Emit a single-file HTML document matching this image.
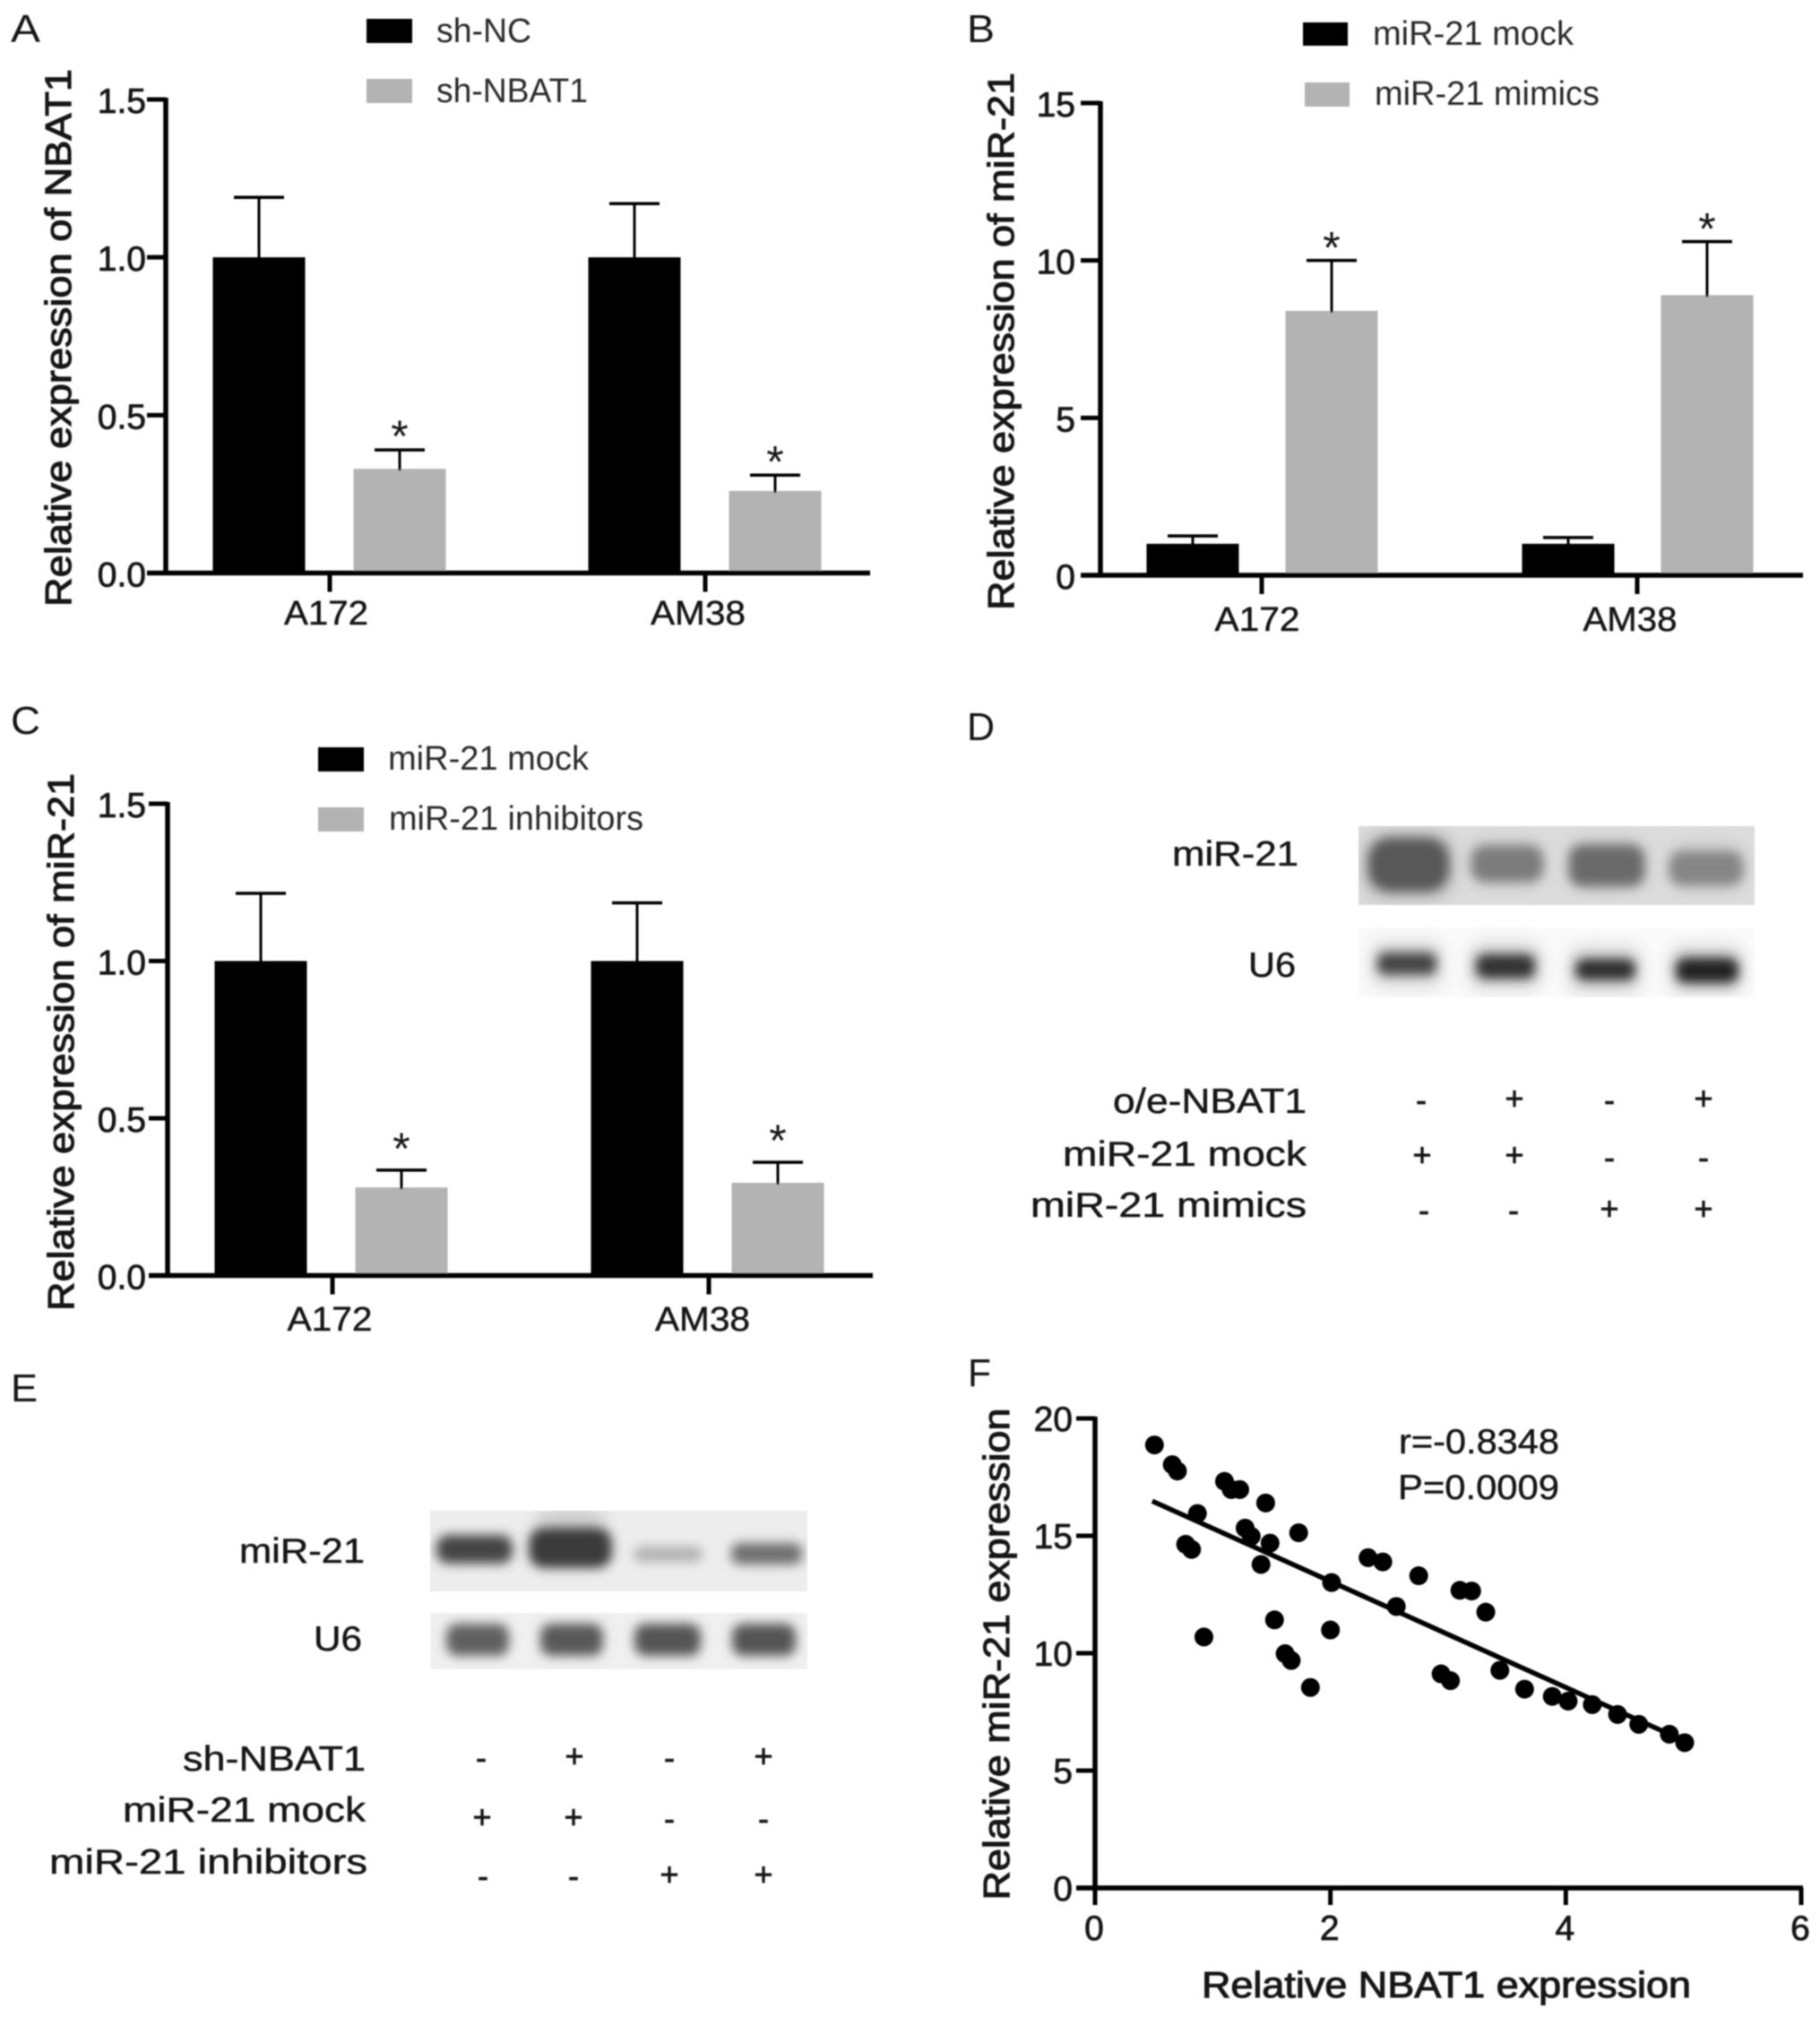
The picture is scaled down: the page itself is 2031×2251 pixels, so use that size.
<!DOCTYPE html>
<html lang="en">
<head>
<meta charset="utf-8">
<title>NBAT1 and miR-21 expression figure</title>
<style>
html,body{margin:0;padding:0;background:#fff;width:2031px;height:2251px;overflow:hidden}
svg{display:block}
text{font-family:"Liberation Sans",Arial,sans-serif;fill:#161616}
.heavy{stroke:#161616;stroke-width:1.1px}
.letter{font-size:44px}
.lbl{font-size:39px;stroke:#161616;stroke-width:.5px}
.sign{font-size:36px;text-anchor:middle;stroke:#161616;stroke-width:.8px}
.leg{font-size:38px;fill:#2a2a2a}
</style>
</head>
<body>
<svg id="figure" xmlns="http://www.w3.org/2000/svg" width="2031" height="2251" viewBox="0 0 2031 2251">
<defs>
<filter id="soft" x="-5%" y="-5%" width="110%" height="110%"><feGaussianBlur stdDeviation="0.7"/></filter>
<filter id="band" x="-30%" y="-60%" width="160%" height="220%"><feGaussianBlur stdDeviation="6"/></filter>
<filter id="halo" x="-30%" y="-60%" width="160%" height="220%"><feGaussianBlur stdDeviation="9"/></filter>
<clipPath id="clip-d1"><rect x="1516" y="922" width="442" height="88"/></clipPath>
<clipPath id="clip-d2"><rect x="1516" y="1035" width="442" height="78"/></clipPath>
<clipPath id="clip-e1"><rect x="480" y="1686" width="421" height="90"/></clipPath>
<clipPath id="clip-e2"><rect x="480" y="1800" width="421" height="63"/></clipPath>
</defs>
<rect width="2031" height="2251" fill="#fff"/>
<g id="root" filter="url(#soft)">

<text class="letter" x="12" y="47" textLength="33" lengthAdjust="spacingAndGlyphs">A</text>
<text class="letter" x="1079" y="47" textLength="31" lengthAdjust="spacingAndGlyphs">B</text>
<text class="letter" x="12" y="819" textLength="33" lengthAdjust="spacingAndGlyphs">C</text>
<text class="letter" x="1079" y="826" textLength="31" lengthAdjust="spacingAndGlyphs">D</text>
<text class="letter" x="12" y="1564" textLength="30" lengthAdjust="spacingAndGlyphs">E</text>
<text class="letter" x="1080" y="1547" textLength="26" lengthAdjust="spacingAndGlyphs">F</text>

<g>
<rect x="409" y="21" width="51" height="27" fill="#000"/>
<text class="leg" x="487" y="47" textLength="106" lengthAdjust="spacingAndGlyphs">sh-NC</text>
<rect x="409" y="88" width="51" height="27" fill="#b3b3b3"/>
<text class="leg" x="487" y="114" textLength="169" lengthAdjust="spacingAndGlyphs">sh-NBAT1</text>
</g>
<g>
<rect x="1454" y="25" width="50" height="26" fill="#000"/>
<text class="leg" x="1532" y="50" textLength="224" lengthAdjust="spacingAndGlyphs">miR-21 mock</text>
<rect x="1456" y="92" width="50" height="27" fill="#b3b3b3"/>
<text class="leg" x="1534" y="117" textLength="251" lengthAdjust="spacingAndGlyphs">miR-21 mimics</text>
</g>
<g>
<rect x="355" y="834" width="51" height="27" fill="#000"/>
<text class="leg" x="433" y="859" textLength="224" lengthAdjust="spacingAndGlyphs">miR-21 mock</text>
<rect x="355" y="901" width="51" height="27" fill="#b3b3b3"/>
<text class="leg" x="434" y="926" textLength="284" lengthAdjust="spacingAndGlyphs">miR-21 inhibitors</text>
</g>

<g id="chart-a"></g>
<g id="chart-b"></g>
<g id="chart-c"></g>
<g id="chart-f"></g>

<g>
<g clip-path="url(#clip-d1)">
<rect x="1516" y="922" width="442" height="88" fill="#dcdcdc"/>
<rect x="1522" y="928" width="100" height="76" rx="24" fill="#bdbdbd" filter="url(#halo)"/>
<rect x="1642" y="938" width="80" height="50" rx="18" fill="#c6c6c6" filter="url(#halo)"/>
<rect x="1751" y="938" width="84" height="54" rx="18" fill="#c2c2c2" filter="url(#halo)"/>
<rect x="1863" y="942" width="82" height="50" rx="18" fill="#c8c8c8" filter="url(#halo)"/>
<rect x="1527" y="935" width="90" height="60" rx="24" fill="#595959" filter="url(#band)"/>
<rect x="1642" y="944" width="80" height="40" rx="15" fill="#7c7c7c" filter="url(#band)"/>
<rect x="1751" y="943" width="84" height="46" rx="15" fill="#6a6a6a" filter="url(#band)"/>
<rect x="1863" y="950" width="82" height="38" rx="14" fill="#858585" filter="url(#band)"/>
</g>
<g clip-path="url(#clip-d2)">
<rect x="1516" y="1035" width="442" height="78" fill="#fafafa"/>
<rect x="1530" y="1050" width="80" height="52" rx="14" fill="#dadada" filter="url(#halo)"/>
<rect x="1640" y="1052" width="80" height="52" rx="14" fill="#d6d6d6" filter="url(#halo)"/>
<rect x="1751" y="1056" width="80" height="52" rx="14" fill="#d6d6d6" filter="url(#halo)"/>
<rect x="1864" y="1056" width="80" height="52" rx="14" fill="#d2d2d2" filter="url(#halo)"/>
<rect x="1537" y="1063" width="66" height="25" rx="9" fill="#454545" filter="url(#band)"/>
<rect x="1647" y="1065" width="66" height="27" rx="10" fill="#333" filter="url(#band)"/>
<rect x="1758" y="1070" width="67" height="24" rx="10" fill="#2e2e2e" filter="url(#band)"/>
<rect x="1870" y="1069" width="70" height="28" rx="11" fill="#222" filter="url(#band)"/>
</g>
</g>

<g transform="translate(-3,-3)">
<text class="lbl" x="1311" y="969" textLength="141" lengthAdjust="spacingAndGlyphs">miR-21</text>
<text class="lbl" x="1396" y="1093" textLength="53" lengthAdjust="spacingAndGlyphs">U6</text>
<text class="lbl" x="1245" y="1245" textLength="216" lengthAdjust="spacingAndGlyphs">o/e-NBAT1</text>
<text class="lbl" x="1189" y="1304" textLength="272" lengthAdjust="spacingAndGlyphs">miR-21 mock</text>
<text class="lbl" x="1153" y="1361" textLength="308" lengthAdjust="spacingAndGlyphs">miR-21 mimics</text>
<g>
<text class="sign" x="1589" y="1243">-</text>
<text class="sign" x="1693" y="1241">+</text>
<text class="sign" x="1799" y="1243">-</text>
<text class="sign" x="1904" y="1241">+</text>
<text class="sign" x="1590" y="1304">+</text>
<text class="sign" x="1693" y="1304">+</text>
<text class="sign" x="1799" y="1307">-</text>
<text class="sign" x="1904" y="1307">-</text>
<text class="sign" x="1592" y="1366">-</text>
<text class="sign" x="1692" y="1366">-</text>
<text class="sign" x="1799" y="1364">+</text>
<text class="sign" x="1904" y="1364">+</text>
</g>
</g>

<g>
<g clip-path="url(#clip-e1)">
<rect x="480" y="1686" width="421" height="90" fill="#ededed"/>
<rect x="600" y="1680" width="74" height="40" rx="10" fill="#d2d2d2" filter="url(#halo)"/>
<rect x="487" y="1713" width="85" height="32" rx="13" fill="#444" filter="url(#band)"/>
<rect x="590" y="1705" width="93" height="45" rx="17" fill="#3a3a3a" filter="url(#band)"/>
<rect x="708" y="1726" width="75" height="17" rx="5" fill="#b0b0b0" filter="url(#band)"/>
<rect x="816" y="1722" width="79" height="24" rx="9" fill="#6e6e6e" filter="url(#band)"/>
</g>
<g clip-path="url(#clip-e2)">
<rect x="480" y="1800" width="421" height="63" fill="#f0f0f0"/>
<rect x="498" y="1812" width="70" height="36" rx="12" fill="#606060" filter="url(#band)"/>
<rect x="603" y="1812" width="70" height="36" rx="12" fill="#585858" filter="url(#band)"/>
<rect x="708" y="1812" width="74" height="36" rx="12" fill="#545454" filter="url(#band)"/>
<rect x="817" y="1812" width="71" height="36" rx="12" fill="#545454" filter="url(#band)"/>
</g>
</g>

<g transform="translate(-3,-3)">
<text class="lbl" x="270" y="1747" textLength="140" lengthAdjust="spacingAndGlyphs">miR-21</text>
<text class="lbl" x="353" y="1845" textLength="54" lengthAdjust="spacingAndGlyphs">U6</text>
<text class="lbl" x="207" y="1979" textLength="204" lengthAdjust="spacingAndGlyphs">sh-NBAT1</text>
<text class="lbl" x="140" y="2036" textLength="271" lengthAdjust="spacingAndGlyphs">miR-21 mock</text>
<text class="lbl" x="58" y="2094" textLength="355" lengthAdjust="spacingAndGlyphs">miR-21 inhibitors</text>
<g>
<text class="sign" x="540" y="1977">-</text>
<text class="sign" x="644" y="1975">+</text>
<text class="sign" x="750" y="1977">-</text>
<text class="sign" x="855" y="1975">+</text>
<text class="sign" x="541" y="2043">+</text>
<text class="sign" x="643" y="2043">+</text>
<text class="sign" x="750" y="2045">-</text>
<text class="sign" x="855" y="2045">-</text>
<text class="sign" x="542" y="2109">-</text>
<text class="sign" x="643" y="2109">-</text>
<text class="sign" x="750" y="2107">+</text>
<text class="sign" x="855" y="2107">+</text>
</g>
</g>
</g>
</svg>

<script>
// ---- Panel A data ----
const categoriesA = ['A172', 'AM38'];
const seriesNamesA = ['sh-NC', 'sh-NBAT1'];
const shNcValues = [1.0, 1.0];
const shNcErrors = [0.19, 0.17];
const shNbat1Values = [0.33, 0.26];
const shNbat1Errors = [0.06, 0.05];
const tickLabelsA = ['0.0', '0.5', '1.0', '1.5'];

// ---- Panel B data ----
const categoriesB = ['A172', 'AM38'];
const seriesNamesB = ['miR-21 mock', 'miR-21 mimics'];
const mockValuesB = [1.0, 1.0];
const mockErrorsB = [0.25, 0.2];
const mimicsValues = [8.4, 8.9];
const mimicsErrors = [1.6, 1.7];
const tickLabelsB = ['0', '5', '10', '15'];

// ---- Panel C data ----
const categoriesC = ['A172', 'AM38'];
const seriesNamesC = ['miR-21 mock', 'miR-21 inhibitors'];
const mockValuesC = [1.0, 1.0];
const mockErrorsC = [0.215, 0.185];
const inhibitorValues = [0.28, 0.295];
const inhibitorErrors = [0.055, 0.065];
const tickLabelsC = ['0.0', '0.5', '1.0', '1.5'];

// ---- Panel F data ----
const scatterX = [0.505,0.656,0.70,0.87,0.77,0.82,0.925,1.10,1.157,1.23,1.45,1.275,1.327,1.487,1.41,1.73,1.525,1.615,1.667,1.83,2.01,2.0,2.32,2.445,2.56,2.75,2.94,3.02,3.10,3.2,3.32,3.44,3.65,3.885,4.02,4.225,4.44,4.62,4.88,5.01];
const scatterY = [18.87,18.03,17.76,15.95,14.64,14.42,10.69,17.32,16.97,16.97,16.4,15.33,14.98,14.69,13.78,15.13,11.42,9.98,9.69,8.54,13.01,10.99,14.07,13.89,11.99,13.3,9.12,8.83,12.68,12.65,11.75,9.27,8.47,8.16,7.96,7.81,7.39,6.97,6.55,6.19];
const trendX = [0.486, 5.01];
const trendY = [16.48, 6.26];
const tickLabelsFX = ['0', '2', '4', '6'];
const tickLabelsFY = ['0', '5', '10', '15', '20'];

const SVG_NS = 'http://www.w3.org/2000/svg';

function svgEl(tag, attrs, parent) {
  const node = document.createElementNS(SVG_NS, tag);
  for (const key in attrs) node.setAttribute(key, attrs[key]);
  parent.appendChild(node);
  return node;
}

function svgText(str, attrs, parent) {
  const node = svgEl('text', attrs, parent);
  node.textContent = str;
  return node;
}

function drawBarPanel(id, p, d) {
  const g = document.getElementById(id);
  const yMax = parseFloat(d.ticks[d.ticks.length - 1]);
  const y = function (v) { return p.y0 - (v / yMax) * (p.y0 - p.yTop); };
  const catX = function (i) { return p.tick0 + i * p.step; };

  d.series.forEach(function (s, si) {
    s.values.forEach(function (v, i) {
      const cx = catX(i) + p.offsets[si];
      const top = y(v + s.errors[i]);
      const bar = svgEl('rect', { x: cx - p.barW / 2, y: y(v), width: p.barW, height: p.y0 - y(v), fill: si === 0 ? '#000' : '#b3b3b3' }, g);
      
      
      const stem = svgEl('line', { x1: cx, x2: cx, y1: y(v) + 2, y2: top, stroke: '#000', 'stroke-width': 3 }, g);
      
      
      const cap = svgEl('line', { x1: cx - 28, x2: cx + 28, y1: top, y2: top, stroke: '#000', 'stroke-width': 3.5 }, g);
      
      
      if (si === 1) {
        const star = svgText('*', { x: cx, y: top - p.starGap + 29, 'font-size': 50, 'text-anchor': 'middle' }, g);
        
        
      }
    });
  });

  const yAxis = svgEl('line', { x1: p.x0, x2: p.x0, y1: p.yTop - 2, y2: p.y0 + 2, stroke: '#000', 'stroke-width': 5.5 }, g);
  
  
  const xAxis = svgEl('line', { x1: p.axisL, x2: p.axisR, y1: p.y0, y2: p.y0, stroke: '#000', 'stroke-width': 5.5 }, g);
  
  

  d.ticks.forEach(function (label) {
    const ty = y(parseFloat(label));
    const tick = svgEl('line', { x1: p.axisL, x2: p.x0, y1: ty, y2: ty, stroke: '#000', 'stroke-width': 5 }, g);
    
    
    const tl = svgText(label, { x: p.labelEnd, y: ty + 15, 'font-size': 39, 'text-anchor': 'end', stroke: '#161616', 'stroke-width': 0.8 }, g);
    
    
  });

  d.categories.forEach(function (c, i) {
    const tick = svgEl('line', { x1: catX(i), x2: catX(i), y1: p.y0, y2: p.y0 + 21, stroke: '#000', 'stroke-width': 5 }, g);
    
    
    const tl = svgText(c, { x: p.catLabelX[i], y: p.catLabelY, 'font-size': 38, 'text-anchor': 'middle', textLength: p.catLabelW[i], lengthAdjust: 'spacingAndGlyphs', stroke: '#161616', 'stroke-width': 0.5 }, g);
    
    
  });

  const title = svgText(d.title, { class: 'heavy', 'font-size': 41, 'text-anchor': 'middle', textLength: p.titleLen, lengthAdjust: 'spacingAndGlyphs', transform: 'translate(' + p.titleX + ',' + p.titleY + ') rotate(-90)' }, g);
  
  
}

drawBarPanel('chart-a',
  { x0: 185, y0: 639.5, yTop: 111, axisL: 164, axisR: 971, tick0: 368, step: 419, offsets: [-79, 78], barW: 103, starGap: 27, labelEnd: 163, catLabelX: [364, 779], catLabelY: 697, catLabelW: [94, 106], titleX: 79, titleY: 377, titleLen: 600 },
  { title: 'Relative expression of NBAT1', categories: categoriesA, ticks: tickLabelsA, series: [
    { name: seriesNamesA[0], values: shNcValues, errors: shNcErrors },
    { name: seriesNamesA[1], values: shNbat1Values, errors: shNbat1Errors } ] });

drawBarPanel('chart-b',
  { x0: 1228, y0: 642, yTop: 115, axisL: 1206, axisR: 2012, tick0: 1408, step: 419, offsets: [-77, 78], barW: 103, starGap: 26, labelEnd: 1200, catLabelX: [1403, 1819], catLabelY: 704, catLabelW: [95, 105], titleX: 1131, titleY: 381, titleLen: 600 },
  { title: 'Relative expression of miR-21', categories: categoriesB, ticks: tickLabelsB, series: [
    { name: seriesNamesB[0], values: mockValuesB, errors: mockErrorsB },
    { name: seriesNamesB[1], values: mimicsValues, errors: mimicsErrors } ] });

drawBarPanel('chart-c',
  { x0: 187, y0: 1423.5, yTop: 897, axisL: 166, axisR: 974, tick0: 371, step: 420, offsets: [-80, 77], barW: 103, starGap: 36, labelEnd: 163, catLabelX: [368, 784], catLabelY: 1485, catLabelW: [95, 106], titleX: 82, titleY: 1163, titleLen: 600 },
  { title: 'Relative expression of miR-21', categories: categoriesC, ticks: tickLabelsC, series: [
    { name: seriesNamesC[0], values: mockValuesC, errors: mockErrorsC },
    { name: seriesNamesC[1], values: inhibitorValues, errors: inhibitorErrors } ] });

(function drawScatter() {
  const g = document.getElementById('chart-f');
  const x0 = 1222, x6 = 2010, y0 = 2107, y20 = 1583;
  const xMax = parseFloat(tickLabelsFX[tickLabelsFX.length - 1]);
  const yMax = parseFloat(tickLabelsFY[tickLabelsFY.length - 1]);
  const sx = function (v) { return x0 + (v / xMax) * (x6 - x0); };
  const sy = function (v) { return y0 - (v / yMax) * (y0 - y20); };

  const yAxis = svgEl('line', { x1: x0, x2: x0, y1: y20 - 2, y2: y0 + 2, stroke: '#000', 'stroke-width': 5.5 }, g);
  
  
  const xAxis = svgEl('line', { x1: x0 - 21, x2: x6 + 2, y1: y0, y2: y0, stroke: '#000', 'stroke-width': 5.5 }, g);
  
  

  tickLabelsFY.forEach(function (label) {
    const ty = sy(parseFloat(label));
    const tick = svgEl('line', { x1: x0 - 21, x2: x0, y1: ty, y2: ty, stroke: '#000', 'stroke-width': 5 }, g);
    
    
    const tl = svgText(label, { x: 1197, y: ty + 14, 'font-size': 39, 'text-anchor': 'end', stroke: '#161616', 'stroke-width': 0.8 }, g);
    
    
  });

  tickLabelsFX.forEach(function (label) {
    const tx = sx(parseFloat(label));
    const tick = svgEl('line', { x1: tx, x2: tx, y1: y0, y2: y0 + 19, stroke: '#000', 'stroke-width': 5 }, g);
    
    
    const tl = svgText(label, { x: tx - 1, y: 2165, 'font-size': 39, 'text-anchor': 'middle', stroke: '#161616', 'stroke-width': 0.8 }, g);
    
    
  });

  const trend = svgEl('line', { x1: sx(trendX[0]), y1: sy(trendY[0]), x2: sx(trendX[1]), y2: sy(trendY[1]), stroke: '#000', 'stroke-width': 5.5 }, g);
  
  

  scatterX.forEach(function (v, i) {
    const dot = svgEl('circle', { cx: sx(v), cy: sy(scatterY[i]), r: 10.5, fill: '#000' }, g);
    
    
  });

  const r = svgText('r=-0.8348', { x: 1561, y: 1622, 'font-size': 39, textLength: 179, lengthAdjust: 'spacingAndGlyphs', stroke: '#161616', 'stroke-width': 0.5 }, g);
  
  
  const pv = svgText('P=0.0009', { x: 1560, y: 1673, 'font-size': 39, textLength: 180, lengthAdjust: 'spacingAndGlyphs', stroke: '#161616', 'stroke-width': 0.5 }, g);
  
  

  const xTitle = svgText('Relative NBAT1 expression', { class: 'heavy', x: 1341, y: 2229, 'font-size': 41, textLength: 546, lengthAdjust: 'spacingAndGlyphs' }, g);
  
  
  const yTitle = svgText('Relative miR-21 expression', { class: 'heavy', 'font-size': 41, 'text-anchor': 'middle', textLength: 549, lengthAdjust: 'spacingAndGlyphs', transform: 'translate(1126,1846) rotate(-90)' }, g);
  
  
})();
</script>
</body>
</html>
